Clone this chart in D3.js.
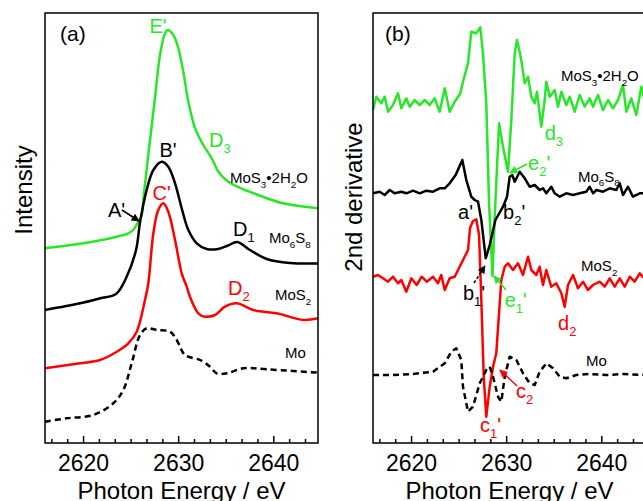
<!DOCTYPE html>
<html>
<head>
<meta charset="utf-8">
<script src="https://cdn.jsdelivr.net/npm/d3@7"></script>
<style>
  body { margin: 0; background: #fff; }
  svg { display: block; font-family: "Liberation Sans", Arial, sans-serif; }
</style>
</head>
<body>
<svg id="chart" width="643" height="501"></svg>
<script>
// energy axis and tick labels
const xDomain = [2616, 2644.7];
const yDomain = [0, 43];
const majorTicks = [2620, 2630, 2640];

// (a) XANES spectra, [photon energy, intensity a.u.]
const aMoS3 = [[2616.0,19.47],[2620.03,19.97],[2623.54,20.63],[2624.76,20.97],[2625.28,21.3],[2625.81,22.13],
  [2626.17,22.8],[2626.33,24.3],[2626.86,28.8],[2627.56,34.5],[2628.09,38.8],[2628.62,40.97],[2628.9,41.3],
  [2629.49,40.8],[2630.01,39.5],[2630.54,37.13],[2631.07,34.13],[2631.77,31.5],[2632.64,29.8],[2633.53,28.47],
  [2634.22,27.13],[2635.27,26.13],[2637.03,25.3],[2637.87,25.0],[2641.02,23.97],[2644.7,23.47]];
const aMo6S8 = [[2616.0,13.3],[2619.7,13.97],[2621.8,14.47],[2623.46,14.9],[2624.57,16.6],[2625.57,19.3],
  [2626.0,22.13],[2626.69,25.3],[2627.39,27.3],[2628.27,28.13],[2628.96,27.63],[2629.67,25.97],[2630.37,23.47],
  [2631.07,21.3],[2631.95,19.97],[2633.0,19.4],[2634.22,19.4],[2635.24,19.75],[2636.2,20.1],[2637.55,19.3],
  [2639.31,18.4],[2641.76,18.0],[2644.7,17.95]];
const aMoS2 = [[2616.0,7.47],[2619.68,7.97],[2621.78,8.3],[2623.54,9.13],[2624.76,9.97],[2625.64,11.13],
  [2626.51,14.3],[2626.86,15.97],[2627.39,20.97],[2627.91,23.3],[2628.44,23.97],[2628.96,23.13],[2629.67,20.3],
  [2630.37,16.97],[2630.9,15.63],[2631.24,14.63],[2632.12,12.97],[2632.82,12.63],[2633.87,12.8],[2634.92,13.63],
  [2636.15,13.97],[2637.9,13.3],[2640.36,12.97],[2643.16,12.3],[2644.7,12.47]];
const aMo = [[2616.0,2.13],[2618.28,2.47],[2621.08,2.8],[2623.18,3.97],[2624.23,5.3],[2625.11,7.97],
  [2625.99,10.8],[2626.69,11.47],[2627.74,11.3],[2629.14,11.13],[2629.85,10.3],[2630.72,8.8],[2632.3,8.3],
  [2633.35,7.63],[2634.05,6.97],[2635.1,6.97],[2636.85,7.47],[2639.31,7.37],[2644.7,7.03]];

// (b) second derivatives, [photon energy, value a.u.]
const bMoS3 = [[2616.0,33.3],[2616.35,34.63],[2616.87,33.97],[2617.23,34.63],[2617.58,33.13],[2618.1,33.8],
  [2618.63,34.97],[2618.98,33.47],[2619.5,34.47],[2619.86,33.63],[2620.38,34.3],[2620.91,33.8],[2621.44,34.3],
  [2621.96,33.8],[2622.49,34.47],[2623.01,33.13],[2623.54,35.47],[2624.06,33.13],[2624.59,34.13],[2625.18,34.97],
  [2625.46,36.13],[2625.99,37.97],[2626.33,41.13],[2626.86,40.97],[2627.28,41.57],[2627.56,38.97],[2627.91,33.97],
  [2628.2,24.0],[2628.56,16.7],[2628.78,22.3],[2629.25,31.97],[2629.67,29.63],[2630.19,27.13],[2630.54,32.3],
  [2630.9,38.97],[2631.14,40.3],[2631.59,38.3],[2631.95,35.97],[2632.3,36.63],[2632.64,34.63],[2633.0,33.97],
  [2633.24,35.13],[2633.69,31.63],[2634.05,34.3],[2634.22,36.13],[2634.58,34.63],[2635.1,35.3],[2635.45,33.63],
  [2635.8,35.13],[2636.32,33.8],[2636.68,34.63],[2637.2,33.13],[2637.73,34.8],[2638.26,33.63],[2638.78,34.47],
  [2639.13,33.63],[2639.65,34.8],[2640.18,33.3],[2640.71,34.3],[2641.23,33.47],[2641.76,34.3],[2642.28,35.8],
  [2642.63,33.13],[2643.16,34.47],[2643.68,32.8],[2644.21,35.63],[2644.7,33.63]];
const bMo6S8 = [[2616.0,24.97],[2616.7,25.13],[2617.23,24.8],[2617.76,25.3],[2618.28,24.97],[2618.98,25.13],
  [2619.5,24.97],[2620.21,25.23],[2620.91,24.97],[2621.6,25.23],[2622.31,25.13],[2623.01,25.47],[2623.54,25.47],
  [2624.06,25.97],[2624.69,26.8],[2625.39,28.3],[2625.81,26.3],[2626.33,24.63],[2626.69,24.3],[2627.04,24.13],
  [2627.39,22.3],[2627.85,18.47],[2628.27,19.8],[2628.87,22.3],[2629.67,23.63],[2630.09,24.63],[2630.37,26.63],
  [2630.64,26.8],[2630.9,26.13],[2631.42,27.13],[2631.95,26.47],[2632.47,25.63],[2633.0,25.8],[2633.52,25.3],
  [2633.87,25.47],[2634.22,24.97],[2634.74,25.63],[2635.1,24.97],[2635.63,24.63],[2636.32,24.97],[2637.03,24.8],
  [2637.73,24.97],[2638.42,25.13],[2638.78,25.63],[2639.13,24.97],[2639.48,25.3],[2640.18,25.13],[2640.88,25.47],
  [2641.58,25.3],[2641.94,25.97],[2642.28,24.8],[2642.81,25.63],[2643.33,24.63],[2644.04,24.97],[2644.7,25.0]];
const bMoS2 = [[2616.0,16.63],[2616.53,16.8],[2617.05,16.47],[2617.58,16.13],[2618.1,16.63],[2618.63,15.97],
  [2618.98,16.3],[2619.5,15.13],[2620.03,16.47],[2620.59,15.8],[2621.12,16.63],[2621.65,16.13],[2622.31,16.63],
  [2622.83,15.97],[2623.18,16.8],[2623.54,15.3],[2624.06,16.47],[2624.59,16.63],[2625.11,17.63],[2625.64,18.63],
  [2625.99,19.3],[2626.2,21.5],[2626.51,22.2],[2626.86,22.37],[2627.15,20.8],[2627.39,14.3],[2627.64,6.63],
  [2627.91,2.63],[2628.27,5.63],[2628.62,7.63],[2628.96,8.97],[2629.32,13.97],[2629.49,16.3],[2629.85,17.63],
  [2630.19,17.97],[2630.72,17.3],[2631.24,17.97],[2631.77,16.8],[2632.3,18.63],[2632.64,17.3],[2633.17,16.8],
  [2633.52,17.63],[2633.87,15.8],[2634.22,17.3],[2634.74,15.63],[2635.27,15.97],[2635.8,14.97],[2636.15,13.63],
  [2636.5,15.8],[2637.03,16.8],[2637.55,15.47],[2638.08,16.13],[2638.6,15.3],[2639.13,15.8],[2639.83,16.13],
  [2640.36,15.63],[2640.88,16.47],[2641.41,15.63],[2641.94,16.47],[2642.46,15.63],[2642.99,16.63],[2643.51,16.13],
  [2644.04,16.97],[2644.7,16.3]];
const bMo = [[2616.0,6.8],[2618.1,6.8],[2620.21,6.9],[2622.31,7.13],[2623.54,7.97],[2624.23,9.13],[2624.76,9.47],
  [2625.28,8.3],[2625.46,5.63],[2625.99,3.13],[2626.51,3.63],[2627.22,5.97],[2627.91,7.3],[2628.27,7.63],
  [2628.62,6.63],[2629.14,4.63],[2629.49,4.13],[2629.85,6.63],[2630.37,8.63],[2631.07,8.3],[2631.77,6.97],
  [2632.47,5.97],[2633.0,5.8],[2633.52,7.13],[2634.22,7.97],[2634.92,7.47],[2635.63,6.63],[2636.32,6.47],
  [2637.37,6.8],[2638.78,6.9],[2640.53,6.8],[2642.28,6.9],[2644.7,6.8]];

const GREEN = '#28e628', RED = '#ff0000', BLACK = '#000000';

// annotations in data units; "_x" = subscript char
const aLabels = [
  {t: "E'", e: 2627.88, v: 41.0, c: GREEN, size: 20, anchor: 'middle'},
  {t: "B'", e: 2628.93, v: 28.63, c: BLACK, size: 20, anchor: 'middle'},
  {t: "C'", e: 2628.27, v: 24.3, c: RED, size: 20, anchor: 'middle'},
  {t: "D_3", e: 2633.24, v: 29.63, c: GREEN, size: 20},
  {t: "MoS_3\u20222H_2O", e: 2635.45, v: 26.0, c: BLACK, size: 15},
  {t: "A'", e: 2622.62, v: 22.6, c: BLACK, size: 20},
  {t: "D_1", e: 2635.76, v: 20.7, c: BLACK, size: 20},
  {t: "Mo_6S_8", e: 2639.55, v: 20.0, c: BLACK, size: 15},
  {t: "D_2", e: 2635.24, v: 14.8, c: RED, size: 20},
  {t: "MoS_2", e: 2640.18, v: 14.3, c: BLACK, size: 15},
  {t: "Mo", e: 2641.23, v: 8.5, c: BLACK, size: 15}
];
const bLabels = [
  {t: "MoS_3\u20222H_2O", e: 2635.76, v: 36.2, c: BLACK, size: 15},
  {t: "d_3", e: 2634.05, v: 30.3, c: GREEN, size: 20},
  {t: "e_2'", e: 2632.3, v: 27.3, c: GREEN, size: 20},
  {t: "Mo_6S_8", e: 2637.55, v: 26.13, c: BLACK, size: 15},
  {t: "a'", e: 2624.94, v: 22.4, c: BLACK, size: 20},
  {t: "b_2'", e: 2629.67, v: 22.4, c: BLACK, size: 20},
  {t: "b_1'", e: 2625.46, v: 14.3, c: BLACK, size: 20},
  {t: "e_1'", e: 2629.85, v: 13.6, c: GREEN, size: 20},
  {t: "MoS_2", e: 2637.87, v: 17.2, c: BLACK, size: 15},
  {t: "d_2", e: 2635.45, v: 11.3, c: RED, size: 20},
  {t: "Mo", e: 2638.39, v: 7.7, c: BLACK, size: 15},
  {t: "c_2", e: 2631.03, v: 4.5, c: RED, size: 20},
  {t: "c_1'", e: 2627.25, v: 1.1, c: RED, size: 20}
];
const aArrows = [
  {from: [2624.09, 23.3], to: [2625.88, 22.2], c: BLACK}
];
const bArrows = [
  {from: [2632.19, 27.9], to: [2630.4, 27.0], c: GREEN},
  {from: [2626.62, 16.0], to: [2627.77, 17.7], c: BLACK, dash: '3,2'},
  {from: [2629.98, 15.3], to: [2628.72, 16.7], c: GREEN},
  {from: [2631.14, 5.7], to: [2629.35, 7.3], c: RED}
];

const W = 273, H = 430;
const svg = d3.select('#chart');
const x = d3.scaleLinear().domain(xDomain).range([0, W]);
const y = d3.scaleLinear().domain(yDomain).range([H, 0]);

const minorTicks = d3.range(-2, 15).filter(i => i % 6 !== 0).map(i => 2620 + i * 10 / 6);

const defs = svg.append('defs');
[['k', BLACK], ['g', GREEN], ['r', RED]].forEach(([id, col]) => {
  defs.append('marker')
    .attr('id', 'arr-' + id)
    .attr('viewBox', '0 0 10 10')
    .attr('refX', 9).attr('refY', 5)
    .attr('markerWidth', 9).attr('markerHeight', 8)
    .attr('markerUnits', 'userSpaceOnUse')
    .attr('orient', 'auto')
    .append('path').attr('d', 'M0,0L10,5L0,10z').attr('fill', col);
});
const markerId = c => c === GREEN ? 'arr-g' : c === RED ? 'arr-r' : 'arr-k';

function richText(g, str, size) {
  const tokens = [];
  for (let i = 0; i < str.length; i++) {
    if (str[i] === '_') { tokens.push({s: str[i + 1], sub: true}); i++; }
    else if (tokens.length && !tokens[tokens.length - 1].sub) tokens[tokens.length - 1].s += str[i];
    else tokens.push({s: str[i], sub: false});
  }
  let down = false;
  tokens.forEach(tk => {
    const ts = g.append('tspan').text(tk.s);
    if (tk.sub) {
      ts.attr('font-size', size * 0.65);
      if (!down) ts.attr('dy', size * 0.3);
      down = true;
    } else {
      if (down) ts.attr('dy', -size * 0.3);
      down = false;
    }
  });
}

function drawPanel(left, opts) {
  const g = svg.append('g').attr('transform', `translate(${left},13)`);
  const line = d3.line().x(d => x(d[0])).y(d => y(d[1])).curve(opts.curve);

  opts.series.forEach(s => {
    g.append('path')
      .datum(s.data)
      .attr('fill', 'none')
      .attr('stroke', s.color)
      .attr('stroke-width', 2.5)
      .attr('stroke-linejoin', 'round')
      .attr('stroke-dasharray', s.dash || null)
      .attr('d', line);
  });

  opts.arrows.forEach(a => {
    g.append('line')
      .attr('x1', x(a.from[0])).attr('y1', y(a.from[1]))
      .attr('x2', x(a.to[0])).attr('y2', y(a.to[1]))
      .attr('stroke', a.c).attr('stroke-width', 1.5)
      .attr('stroke-dasharray', a.dash || null)
      .attr('marker-end', `url(#${markerId(a.c)})`);
  });

  opts.labels.forEach(l => {
    const t = g.append('text')
      .attr('x', x(l.e)).attr('y', y(l.v))
      .attr('fill', l.c)
      .attr('font-size', l.size)
      .attr('text-anchor', l.anchor || 'start');
    richText(t, l.t, l.size);
  });

  // minor + major ticks pointing inward
  g.append('g')
    .attr('transform', `translate(0,${H})`)
    .call(d3.axisBottom(x).tickValues(minorTicks).tickSize(-4).tickFormat(''))
    .call(ax => ax.select('.domain').remove())
    .call(ax => ax.selectAll('line').attr('stroke-width', 1.5));
  g.append('g')
    .attr('transform', `translate(0,${H})`)
    .call(d3.axisBottom(x).tickValues(majorTicks).tickSize(-7).tickPadding(12).tickFormat(d3.format('d')))
    .call(ax => ax.select('.domain').remove())
    .call(ax => ax.selectAll('line').attr('stroke-width', 1.5))
    .call(ax => ax.selectAll('text')
      .attr('font-size', 23)
      .attr('font-family', '"Liberation Sans", Arial, sans-serif')
      .attr('fill', '#000'));

  g.append('rect')
    .attr('width', W).attr('height', H)
    .attr('fill', 'none').attr('stroke', '#000').attr('stroke-width', 1.5);

  g.append('text')
    .attr('x', opts.tagX).attr('y', 28)
    .attr('font-size', 21)
    .text(opts.tag);

  g.append('text')
    .attr('x', W / 2).attr('y', 486)
    .attr('text-anchor', 'middle')
    .attr('font-size', 24)
    .text('Photon Energy / eV');

  g.append('text')
    .attr('transform', `translate(${opts.yTitleX},${opts.yTitleY}) rotate(-90)`)
    .attr('text-anchor', 'middle')
    .attr('font-size', 24)
    .text(opts.yTitle);
}

drawPanel(45, {
  tag: '(a)', tagX: 15,
  yTitle: 'Intensity', yTitleX: -13, yTitleY: 177,
  curve: d3.curveCatmullRom.alpha(0.5),
  series: [
    {data: aMoS3, color: GREEN},
    {data: aMo6S8, color: BLACK},
    {data: aMoS2, color: RED},
    {data: aMo, color: BLACK, dash: '6,4'}
  ],
  labels: aLabels, arrows: aArrows
});

drawPanel(373, {
  tag: '(b)', tagX: 12,
  yTitle: '2nd derivative', yTitleX: -11, yTitleY: 184,
  curve: d3.curveLinear,
  series: [
    {data: bMoS3, color: GREEN},
    {data: bMo6S8, color: BLACK},
    {data: bMoS2, color: RED},
    {data: bMo, color: BLACK, dash: '6,4'}
  ],
  labels: bLabels, arrows: bArrows
});
</script>
</body>
</html>
